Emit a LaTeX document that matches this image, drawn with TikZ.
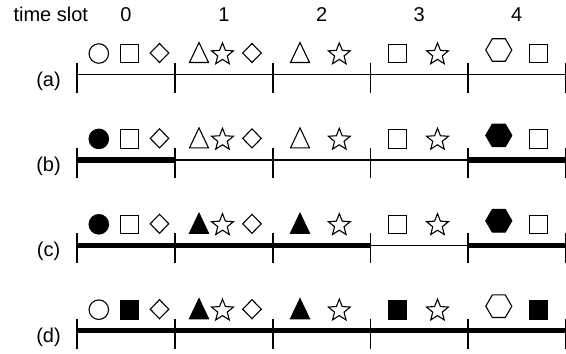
\documentclass[tikz,border=0pt]{standalone}
\usepackage{fontspec}
\setmainfont{Liberation Sans}
\usetikzlibrary{shapes.geometric}

\begin{document}
\begin{tikzpicture}[
  x=1pt, y=-1pt,
  font=\fontsize{20}{24}\selectfont,
  sym/.style={draw, line width=1.1pt, inner sep=0pt},
  circ/.style={sym, circle, minimum size=19.5pt},
  sq/.style={sym, rectangle, minimum size=18.5pt},
  dia/.style={sym, diamond, minimum width=19pt, minimum height=19.5pt},
  tri/.pic={\draw[pic actions, line width=1.1pt]
              (-9.5,10) -- (0,-10) -- (9.5,10) -- cycle;},
  strr/.style={sym, star, star points=5, star point ratio=2.3,
               minimum size=23pt},
  hexa/.style={sym, regular polygon, regular polygon sides=6,
               minimum size=26pt},
  slotline/.style={line width=1.2pt},
  busy/.style={line width=5.5pt},
  tickmark/.style={line width=1.2pt},
]
\useasboundingbox (0,0) rectangle (566,354);

% ------------------- header -------------------
\node[anchor=base west] (hdr) at (10,21) {time slot};
\node[anchor=base] (slot0) at (126,21) {0};
\node[anchor=base] (slot1) at (224,21) {1};
\node[anchor=base] (slot2) at (321.8,21) {2};
\node[anchor=base] (slot3) at (419.3,21) {3};
\node[anchor=base] (slot4) at (516.7,21) {4};

% ------------------- rows: ticks, labels, symbols -------------------
% fill of circle/hexagon, triangles, squares per row
\foreach \r/\L/\fo/\ft/\fs in {a/74.5/white/white/white,
                               b/159.9/black/white/white,
                               c/245.3/black/black/white,
                               d/330.7/white/black/black} {
  \foreach \i/\x in {0/77, 1/175, 2/273, 3/370.5, 4/468, 5/565.4} {
    \coordinate (\r\i) at (\x,\L);
    \draw[tickmark] ([yshift=12pt]\r\i) -- ([yshift=-18pt]\r\i);
  }
  \node[anchor=base] (lbl\r) at (48.5,\L+11.5) {(\r)};

  \node[circ, fill=\fo] (\r-circ0) at (98.8,\L-21) {};
  \node[sq, fill=\fs]   (\r-sq0)   at (129.3,\L-21) {};
  \node[dia]            (\r-dia0)  at (159.5,\L-21.5) {};
  \pic[fill=\ft]        (\r-tri1)  at (199,\L-22) {tri};
  \node[strr]           (\r-star1) at (222.5,\L-20.1) {};
  \node[dia]            (\r-dia1)  at (252,\L-21.5) {};
  \pic[fill=\ft]        (\r-tri2)  at (300,\L-22) {tri};
  \node[strr]           (\r-star2) at (339.3,\L-20.1) {};
  \node[sq, fill=\fs]   (\r-sq3)   at (397.5,\L-21) {};
  \node[strr]           (\r-star3) at (437.5,\L-20.1) {};
  \node[hexa, fill=\fo] (\r-hex4)  at (498.8,\L-24.5) {};
  \node[sq, fill=\fs]   (\r-sq4)   at (538.3,\L-21) {};
}

% ------------------- time lines (thick = occupied) -------------------
\draw[slotline] (a0) -- (a5);

\draw[busy] (b0) -- (b1);
\draw[slotline] (b1) -- (b4);
\draw[busy] (b4) -- (b5);

\draw[busy] (c0) -- (c3);
\draw[slotline] (c3) -- (c4);
\draw[busy] (c4) -- (c5);

\draw[busy] (d0) -- (d5);

\end{tikzpicture}
\end{document}
